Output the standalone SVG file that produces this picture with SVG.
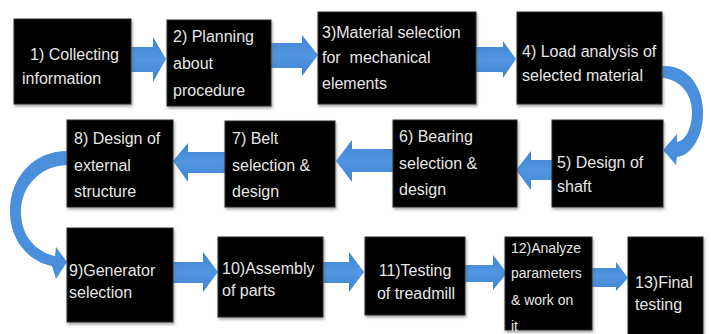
<svg xmlns="http://www.w3.org/2000/svg" width="711" height="334" viewBox="0 0 711 334">
  <defs>
    <filter id="shadow" x="-10%" y="-10%" width="125%" height="125%">
      <feDropShadow dx="1" dy="2" stdDeviation="1.5" flood-color="#666" flood-opacity="0.6"/>
    </filter>
    <linearGradient id="arrowFill" x1="0" y1="0" x2="0" y2="1">
      <stop offset="0" stop-color="#3e84d2"/>
      <stop offset="0.5" stop-color="#5296e0"/>
      <stop offset="1" stop-color="#3e84d2"/>
    </linearGradient>
  </defs>
  <style>
    .box { fill: #040404; stroke: #2c2c2c; stroke-width: 1; filter: url(#shadow); }
    .lbl { font-family: "Liberation Sans", Arial, sans-serif; font-size: 16px; fill: #e6e6e6; white-space: pre; }
    .sm { font-size: 14px; }
    .arr { fill: url(#arrowFill); }
    .curve { fill: #4a8fdb; }
  </style>
  <rect width="711" height="334" fill="#ffffff"/>

  <!-- connectors -->
  <g id="connectors">
    <!-- row 1, left to right -->
    <polygon class="arr" points="131,47 153,47 153,37 166,59 153,82 153,72 131,72"/>
    <polygon class="arr" points="271,43 302,43 302,35 318,55 302,76 302,68 271,68"/>
    <polygon class="arr" points="476,47 503,47 503,41 516,59 503,78 503,72 476,72"/>
    <!-- 4 down to 5 -->
    <path class="curve" d="M662,66 C688,64 704,88 703,114 C703,138 690,156 677,157 L676,165 L663,150 L677,134 L677,142 C687,140 692,126 692,112 C692,94 680,79 662,78 Z"/>
    <!-- row 2, right to left -->
    <polygon class="arr" points="552,160 531,160 531,151 516,170 531,190 531,180 552,180"/>
    <polygon class="arr" points="393,149 352,149 352,140 336,161 352,182 352,172 393,172"/>
    <polygon class="arr" points="225,152 188,152 188,143 173,161 188,182 188,173 225,173"/>
    <!-- 8 down to 9 -->
    <path class="curve" d="M67,151 C35,151 9,176 10,214 C11,242 30,262 52,266 L56,279 L67,262 L56,247 L55,256 C36,252 21,236 21,212 C21,186 40,166 67,165 Z"/>
    <!-- row 3, left to right -->
    <polygon class="arr" points="173,262 203,262 203,252 218,272 203,292 203,283 173,283"/>
    <polygon class="arr" points="323,262 349,262 349,252 364,272 349,292 349,283 323,283"/>
    <polygon class="arr" points="465,265 493,265 493,255 507,273 493,290 493,282 465,282"/>
    <polygon class="arr" points="592,268 616,268 616,262 628,278 616,291 616,287 592,287"/>
  </g>

  <!-- nodes -->
  <g id="n1">
    <rect class="box" x="14" y="19" width="117" height="85"/>
    <text class="lbl" x="30" y="60">1) Collecting</text>
    <text class="lbl" x="22" y="84">information</text>
  </g>
  <g id="n2">
    <rect class="box" x="167" y="20" width="104" height="86"/>
    <text class="lbl" x="173" y="42">2) Planning</text>
    <text class="lbl" x="173" y="69">about</text>
    <text class="lbl" x="173" y="96">procedure</text>
  </g>
  <g id="n3">
    <rect class="box" x="318" y="12" width="158" height="92"/>
    <text class="lbl" x="322" y="38">3)Material selection</text>
    <text class="lbl" x="322" y="63">for  mechanical</text>
    <text class="lbl" x="322" y="89">elements</text>
  </g>
  <g id="n4">
    <rect class="box" x="517" y="12" width="145" height="92"/>
    <text class="lbl" x="522" y="57">4) Load analysis of</text>
    <text class="lbl" x="522" y="81">selected material</text>
  </g>
  <g id="n5">
    <rect class="box" x="552" y="120" width="111" height="87"/>
    <text class="lbl" x="557" y="168">5) Design of</text>
    <text class="lbl" x="557" y="192">shaft</text>
  </g>
  <g id="n6">
    <rect class="box" x="393" y="120" width="124" height="87"/>
    <text class="lbl" x="399" y="142">6) Bearing</text>
    <text class="lbl" x="399" y="169">selection &amp;</text>
    <text class="lbl" x="399" y="195">design</text>
  </g>
  <g id="n7">
    <rect class="box" x="225" y="121" width="110" height="86"/>
    <text class="lbl" x="232" y="144">7) Belt</text>
    <text class="lbl" x="232" y="171">selection &amp;</text>
    <text class="lbl" x="232" y="197">design</text>
  </g>
  <g id="n8">
    <rect class="box" x="67" y="120" width="106" height="87"/>
    <text class="lbl" x="74" y="144">8) Design of</text>
    <text class="lbl" x="74" y="171">external</text>
    <text class="lbl" x="74" y="197">structure</text>
  </g>
  <g id="n9">
    <rect class="box" x="67" y="228" width="106" height="94"/>
    <text class="lbl" x="69" y="276">9)Generator</text>
    <text class="lbl" x="69" y="298">selection</text>
  </g>
  <g id="n10">
    <rect class="box" x="218" y="237" width="105" height="80"/>
    <text class="lbl" x="222" y="274">10)Assembly</text>
    <text class="lbl" x="222" y="296">of parts</text>
  </g>
  <g id="n11">
    <rect class="box" x="365" y="237" width="100" height="78"/>
    <text class="lbl" x="415" y="276" text-anchor="middle">11)Testing</text>
    <text class="lbl" x="416" y="299" text-anchor="middle">of treadmill</text>
  </g>
  <g id="n12">
    <rect class="box" x="505" y="237" width="87" height="93"/>
    <text class="lbl sm" x="511" y="253">12)Analyze</text>
    <text class="lbl sm" x="511" y="278">parameters</text>
    <text class="lbl sm" x="511" y="305">&amp; work on</text>
    <text class="lbl sm" x="511" y="331">it</text>
  </g>
  <g id="n13">
    <rect class="box" x="628" y="237" width="75" height="100"/>
    <text class="lbl" x="635" y="288">13)Final</text>
    <text class="lbl" x="635" y="310">testing</text>
  </g>
</svg>
